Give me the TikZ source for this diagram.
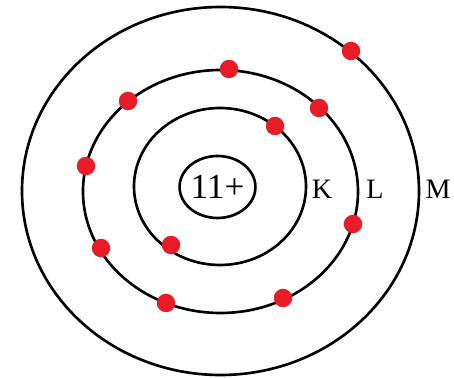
\documentclass[tikz,border=0pt]{standalone}
\usepackage{fontspec}
\setmainfont{Liberation Serif}
\usepackage{tikz}
\usetikzlibrary{shapes.geometric}
\definecolor{elred}{RGB}{232,28,38}

\begin{document}
\begin{tikzpicture}[
            x=0.02cm, y=0.02cm,
            shell/.style={draw=black, line width=1.5pt},
            nucleus/.style={ellipse, draw=black, line width=1.5pt, inner sep=0pt,
                        minimum width=1.42cm, minimum height=1.24cm, font=\fontsize{20}{20}\selectfont},
            electron/.style={circle, fill=elred, inner sep=0pt, minimum size=0.37cm},
            shelllabel/.style={font=\fontsize{16}{16}\selectfont}
        ]
            \useasboundingbox (0,0) rectangle (454,379);

            % Shells
            \draw[shell] (220.5,188) ellipse [x radius=198.5, y radius=184];
            \draw[shell] (220.5,187.5) ellipse [x radius=137.5, y radius=121.5];
            \draw[shell] (220,192.5) ellipse [x radius=86, y radius=78.5];

            % Nucleus
            \node[nucleus] (core) at (217.5,192) {11+};

            % Shell labels
            \node[shelllabel] (lk) at (322,190) {K};
            \node[shelllabel] (ll) at (375,190) {L};
            \node[shelllabel] (lm) at (438,190) {M};

            % Electrons - K shell
            \node[electron] (k1) at (275,253) {};
            \node[electron] (k2) at (171,134) {};

            % Electrons - L shell
            \node[electron] (l1) at (229,310) {};
            \node[electron] (l2) at (128,278) {};
            \node[electron] (l3) at (319,271) {};
            \node[electron] (l4) at (86,213) {};
            \node[electron] (l5) at (101,131) {};
            \node[electron] (l6) at (353,155) {};
            \node[electron] (l7) at (166,76) {};
            \node[electron] (l8) at (283,81) {};

            % Electron - M shell
            \node[electron] (m1) at (351,328) {};
        \end{tikzpicture}
\end{document}
